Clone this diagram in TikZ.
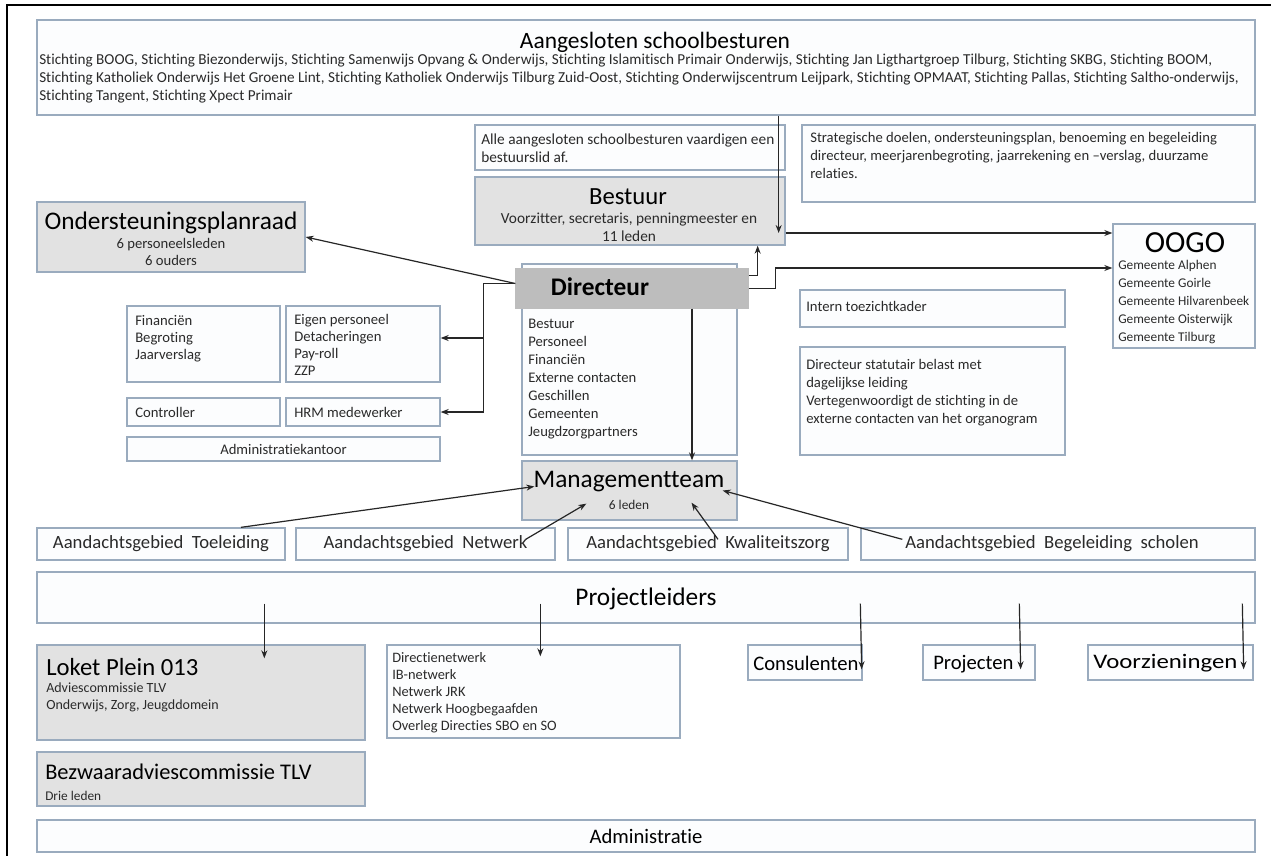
\documentclass[tikz,border=0pt]{standalone}
\usepackage{fontspec}
\setmainfont{Carlito}[Ligatures=NoCommon]
\usetikzlibrary{arrows.meta,calc,fit}
\definecolor{bline}{HTML}{9AABBE}
\definecolor{bfill}{HTML}{FCFDFE}
\definecolor{gfill}{HTML}{E2E2E2}
\definecolor{dfill}{HTML}{BDBDBD}
\definecolor{tcol}{HTML}{2A2A2A}
\newcommand\fsz[2]{\fontsize{#1pt}{#2pt}\selectfont}
\tikzset{
  box/.style={draw=bline,line width=1pt,fill=bfill,inner sep=0pt},
  gbox/.style={box,fill=gfill},
  dbox/.style={box,fill=dfill,draw=dfill},
  txt/.style={inner sep=0pt,text=tcol,font=\fsz{11}{13.5}},
  list/.style={txt,align=left,anchor=north west},
  big/.style={inner sep=0pt,text=black,font=\fsz{19}{22}},
  mid/.style={inner sep=0pt,text=tcol,font=\fsz{14}{16}},
  arr/.style={draw=black!85,line width=0.9pt,-{Stealth[length=6pt,width=4.5pt]}},
  ln/.style={draw=black!85,line width=0.9pt},
}
\begin{document}
\begin{tikzpicture}[x=0.75pt,y=-0.75pt]
\useasboundingbox (0,0) rectangle (1271,856);
\fill[white] (0,0) rectangle (1271,856);
\draw[line width=1.5pt] (7,856) -- (7,5) -- (1271,5);

% header
\node[box,fit={(37,20)(1255,115)}] (hdr) {};
\node[big,font=\fsz{17.6}{20}] (hdrT) at (655,42) {Aangesloten schoolbesturen};
\node[list,font=\fsz{11.4}{13.5}] (hdrB) at (39,54) {Stichting BOOG, Stichting Biezonderwijs, Stichting Samenwijs Opvang \& Onderwijs, Stichting Islamitisch Primair Onderwijs, Stichting Jan Ligthartgroep Tilburg, Stichting SKBG, Stichting BOOM,\\Stichting Katholiek Onderwijs Het Groene Lint, Stichting Katholiek Onderwijs Tilburg Zuid-Oost, Stichting Onderwijscentrum Leijpark, Stichting OPMAAT, Stichting Pallas, Stichting Saltho-onderwijs,\\Stichting Tangent, Stichting Xpect Primair};

% bestuur
\node[box,fit={(475,125)(785,170)}] (alle) {};
\node[list,font=\fsz{11.5}{13}] (alleT) at (481,134) {Alle aangesloten schoolbesturen vaardigen een\\bestuurslid af.};
\node[gbox,fit={(475,177)(785,245)}] (bst) {};
\node[big,font=\fsz{18.5}{20}] (bstT) at (628,197) {Bestuur};
\node[txt,align=center,anchor=north,font=\fsz{11.5}{13}] (bstS) at (629,213) {Voorzitter, secretaris, penningmeester en\\11 leden};

\node[box,fit={(802,125)(1255,202)}] (str) {};
\node[list] (strT) at (810,132) {Strategische doelen, ondersteuningsplan, benoeming en begeleiding\\directeur, meerjarenbegroting, jaarrekening en –verslag, duurzame\\relaties.};

\node[gbox,fit={(37,202)(305,272)}] (osp) {};
\node[big] (ospT) at (171,223) {Ondersteuningsplanraad};
\node[txt,align=center,anchor=north,font=\fsz{11}{12.75}] (ospS) at (171,238) {6 personeelsleden\\6 ouders};

% directeur
\node[box,fit={(522,264)(737,455)}] (dirL) {};
\node[dbox,fit={(516,269)(748,308)}] (dir) {};
\node[inner sep=0pt,font=\fsz{19}{20}\bfseries] (dirT) at (600,287) {Directeur};
\node[list] (dirLT) at (528,319) {Bestuur\\Personeel\\Financiën\\Externe contacten\\Geschillen\\Gemeenten\\Jeugdzorgpartners};

\node[gbox,fit={(522,461)(737,520)}] (mt) {};
\node[big] (mtT) at (629,482) {Managementteam};
\node[txt,font=\fsz{10}{12}] (mtS) at (629,505) {6 leden};

% right column
\node[box,fit={(1113,224)(1255,348)}] (oogo) {};
\node[big,font=\fsz{23}{24}] (oogoT) at (1185,243) {OOGO};
\node[list,font=\fsz{10}{13.5}] (oogoL) at (1118,260) {Gemeente Alphen\\Gemeente Goirle\\Gemeente Hilvarenbeek\\Gemeente Oisterwijk\\Gemeente Tilburg};

\node[box,fit={(800,290)(1065,327)}] (itk) {};
\node[txt,anchor=west] (itkT) at (806,306) {Intern toezichtkader};
\node[box,fit={(800,347)(1065,455)}] (dsb) {};
\node[list] (dsbT) at (806,359) {Directeur statutair belast met\\dagelijkse leiding\\Vertegenwoordigt de stichting in de\\externe contacten van het organogram};

% left cluster
\node[box,fit={(127,306)(280,382)}] (fin) {};
\node[list,font=\fsz{11}{12.75}] (finT) at (135,315) {Financiën\\Begroting\\Jaarverslag};
\node[box,fit={(286,306)(440,382)}] (eig) {};
\node[list,font=\fsz{11}{12.75}] (eigT) at (294,314) {Eigen personeel\\Detacheringen\\Pay-roll\\ZZP};
\node[box,fit={(127,398)(280,426)}] (ctl) {};
\node[txt,anchor=west] (ctlT) at (135,412) {Controller};
\node[box,fit={(286,398)(440,426)}] (hrm) {};
\node[txt,anchor=west] (hrmT) at (294,412) {HRM medewerker};
\node[box,fit={(127,437)(440,461)}] (adk) {};
\node[txt] (adkT) at (adk.center) {Administratiekantoor};

% aandachtsgebieden
\node[box,fit={(37,528)(285,560)}] (aT) {};
\node[mid] (aTT) at (aT.center) {Aandachtsgebied\ \ Toeleiding};
\node[box,fit={(296,528)(555,560)}] (aN) {};
\node[mid] (aNT) at (aN.center) {Aandachtsgebied\ \ Netwerk};
\node[box,fit={(568,528)(848,560)}] (aK) {};
\node[mid] (aKT) at (aK.center) {Aandachtsgebied\ \ Kwaliteitszorg};
\node[box,fit={(861,528)(1255,560)}] (aB) {};
\node[mid] (aBT) at ($(aB.center)+(-6,0)$) {Aandachtsgebied\ \ Begeleiding\ \ scholen};

\node[box,fit={(37,572)(1255,623)}] (pl) {};
\node[big] (plT) at (646,599) {Projectleiders};

% bottom
\node[gbox,fit={(37,645)(365,740)}] (lok) {};
\node[big,font=\fsz{18.5}{20},anchor=west] (lokT) at (46,667) {Loket Plein 013};
\node[list,font=\fsz{10.5}{12.75}] (lokS) at (46,683) {Adviescommissie TLV\\Onderwijs, Zorg, Jeugddomein};
\node[box,fit={(387,645)(680,738)}] (dnw) {};
\node[list,font=\fsz{10.8}{12.75}] (dnwT) at (392,652) {Directienetwerk\\IB-netwerk\\Netwerk JRK\\Netwerk Hoogbegaafden\\Overleg Directies SBO en SO};
\node[box,fit={(748,645)(862,680)}] (con) {};
\node[big,font=\fsz{15.5}{18},anchor=west] (conT) at (753,663) {Consulenten};
\node[box,fit={(923,645)(1035,680)}] (prj) {};
\node[big,font=\fsz{15.5}{18},anchor=west] (prjT) at (933,664) {Projecten};
\node[box,fit={(1088,645)(1253,680)}] (vrz) {};
\node[big,font=\fsz{15.5}{18},anchor=west] (vrzT) at (1093,663) {\scalebox{1.2}[1]{Voorzieningen}};
\node[gbox,fit={(37,752)(365,806)}] (bez) {};
\node[big,font=\fsz{16.8}{20},anchor=west] (bezT) at (45,772) {Bezwaaradviescommissie TLV};
\node[txt,font=\fsz{10}{12},anchor=west] (bezS) at (45,796) {Drie leden};
\node[box,fit={(37,820)(1255,852)}] (adm) {};
\node[big,font=\fsz{15.5}{18}] (admT) at (adm.center) {Administratie};

% connectors
\draw[arr] ($(bst.east |- hdr.south)+(-7,0)$) -- ($(bst.east)+(-7,22)$);
\draw[arr] ($(bst.east)+(0,22)$) coordinate (q1) -- (q1 -| oogo.west);
\draw[arr] ($(dir.east)+(0,-13)$) -| ($(bst.south east)+(-28,0)$);
\draw[arr] (dir.east) -- ++(27,0) |- ($(oogo.west)+(0,-18)$);
\draw[arr] ($(dir.west)+(0,-5)$) -- (osp.east);
\draw[ln] ($(dir.west)+(0,-5)$) -| ($(hrm.east)+(43,0)$);
\draw[arr] ($(hrm.east)+(43,0)$) -- (hrm.east);
\draw[arr] ($(eig.east)+(43,-6)$) -- ($(eig.east)+(0,-6)$);
\draw[arr] ($(dir.south)+(60,0)$) coordinate (q2) -- (q2 |- mt.north);

\draw[arr] ($(aT.north)+(80,0)$) -- ($(mt.west)+(13,-4)$);
\draw[arr] ($(aN.north east)+(-30,12)$) -- ($(mt.south west)+(65,-17)$);
\draw[arr] ($(aK.north)+(10,12)$) -- ($(mt.south)+(62,-18)$);
\draw[arr] ($(aB.north west)+(42,12)$) -- ($(mt.east)+(-15,0)$);

\draw[arr] ($(pl.south west)+(228,-20)$) -- ($(lok.north west)+(228,14)$);
\draw[arr] ($(pl.south west)+(504,-20)$) -- ($(dnw.north west)+(154,12)$);
\draw[arr] ($(pl.south west)+(824,-20)$) -- ($(con.north east)+(-1,25)$);
\draw[arr] ($(pl.south west)+(983,-20)$) -- ($(prj.north east)+(-15,25)$);
\draw[arr] ($(pl.south west)+(1206,-20)$) -- ($(vrz.north east)+(-10,25)$);
\end{tikzpicture}
\end{document}
